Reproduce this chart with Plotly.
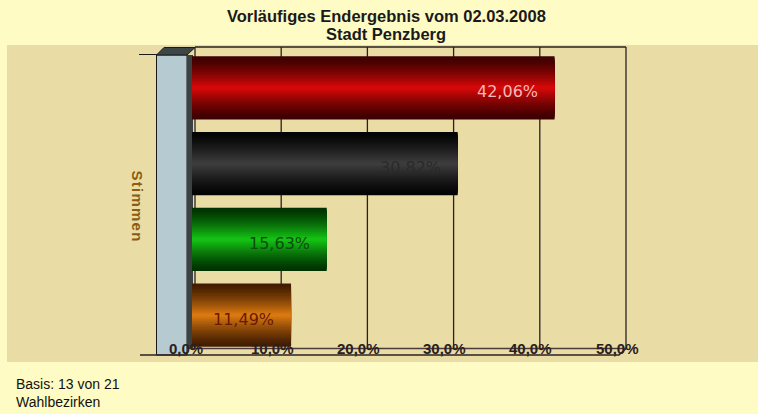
import plotly.graph_objects as go

# ---- data ----
categories = ["Partei 1", "Partei 2", "Partei 3", "Partei 4"]
values = [42.06, 30.82, 15.63, 11.49]
value_labels = ["42,06%", "30,82%", "15,63%", "11,49%"]
tick_vals = [0, 10, 20, 30, 40, 50]
tick_labels = ["0,0%", "10,0%", "20,0%", "30,0%", "40,0%", "50,0%"]
title_lines = ["Vorläufiges Endergebnis vom 02.03.2008", "Stadt Penzberg"]
axis_title = "Stimmen"
footer_lines = ["Basis: 13 von 21", "Wahlbezirken"]

# ---- style ----
W, H = 758, 414
L, R, T, B = 192, 623, 50, 353  # plot area in pixels
dark_cols = [(0x3c, 0x00, 0x00), (0x04, 0x04, 0x04), (0x00, 0x32, 0x00), (0x42, 0x1c, 0x00)]
bright_cols = [(0xD4, 0x08, 0x08), (0x3c, 0x3c, 0x3c), (0x14, 0xC0, 0x14), (0xD8, 0x78, 0x10)]
label_cols = ["#F4B8B8", "#2a2a2a", "#0c4c0c", "#6a1800"]
BAR_W = 0.836


def px(x):
    return (x - L) / (R - L)


def py(y):
    return (B - y) / (B - T)


def blend(c1, c2, t):
    return "rgb(%d,%d,%d)" % tuple(round(a + (b - a) * t) for a, b in zip(c1, c2))


fig = go.Figure()
N = 18
for k in range(N):
    f = 1.0 - k / N
    t = (k / (N - 1)) ** 1.3
    fig.add_trace(go.Bar(
        y=categories, x=values, orientation="h",
        width=[BAR_W * f] * len(values),
        marker=dict(color=[blend(d, b, t) for d, b in zip(dark_cols, bright_cols)],
                    line=dict(width=0)),
        hoverinfo="skip", showlegend=False,
    ))

shapes = []
# background bands
shapes.append(dict(type="rect", xref="paper", yref="paper", layer="below",
                   x0=px(7), x1=px(W + 5), y0=py(362), y1=py(45),
                   fillcolor="#E9DCA5", line=dict(width=0)))
# back-wall gridlines
for v in tick_vals:
    xx = px(L + v * (R - L) / 50 + 3)
    shapes.append(dict(type="line", xref="paper", yref="paper", layer="below",
                       x0=xx, x1=xx, y0=py(349), y1=py(47),
                       line=dict(color="#2a2222", width=1.3)))
shapes.append(dict(type="line", xref="paper", yref="paper", layer="below",
                   x0=px(195), x1=px(626), y0=py(47), y1=py(47),
                   line=dict(color="#2a2222", width=1.3)))
# floor
shapes.append(dict(type="line", xref="paper", yref="paper", layer="above",
                   x0=px(188), x1=px(626), y0=py(348.5), y1=py(348.5),
                   line=dict(color="#4a3c3c", width=1.5)))
shapes.append(dict(type="path", xref="paper", yref="paper", layer="above",
                   path="M %f,%f L %f,%f L %f,%f" % (px(140), py(355), px(619), py(355), px(626), py(348.5)),
                   line=dict(color="#2a2222", width=1.3)))
# left wall
shapes.append(dict(type="rect", xref="paper", yref="paper", layer="below",
                   x0=px(156.5), x1=px(187), y0=py(355), y1=py(55),
                   fillcolor="#B5CBD1", line=dict(color="#1a1a1a", width=1)))
shapes.append(dict(type="rect", xref="paper", yref="paper", layer="below",
                   x0=px(187), x1=px(193), y0=py(349), y1=py(55),
                   fillcolor="#3a4242", line=dict(width=0)))
shapes.append(dict(type="path", xref="paper", yref="paper", layer="below",
                   path="M %f,%f L %f,%f L %f,%f L %f,%f Z" % (
                       px(156.5), py(55), px(164), py(47.5), px(195), py(47.5), px(187), py(55)),
                   fillcolor="#3d4646", line=dict(color="#1a1a1a", width=1)))
shapes.append(dict(type="line", xref="paper", yref="paper", layer="below",
                   x0=px(139), x1=px(157), y0=py(54.5), y1=py(54.5),
                   line=dict(color="#1a1a1a", width=1)))

annotations = []
for i, (c, v, lab) in enumerate(zip(categories, values, value_labels)):
    annotations.append(dict(x=v, y=c, xref="x", yref="y", text=lab, showarrow=False,
                            xanchor="right", xshift=-15, yshift=-4,
                            font=dict(family="DejaVu Sans", size=16, color=label_cols[i])))
for v, lab in zip(tick_vals, tick_labels):
    annotations.append(dict(x=v, y=py(348), xref="x", yref="paper", text="<b>%s</b>" % lab,
                            showarrow=False, xanchor="center", yanchor="middle", xshift=-6,
                            font=dict(family="Liberation Sans", size=15, color="#2a2020")))
annotations.append(dict(x=px(386), y=py(16), xref="paper", yref="paper",
                        text="<b>%s</b>" % title_lines[0], showarrow=False,
                        xanchor="center", yanchor="middle",
                        font=dict(family="Liberation Sans", size=16.5, color="#1a1a1a")))
annotations.append(dict(x=px(386), y=py(34), xref="paper", yref="paper",
                        text="<b>%s</b>" % title_lines[1], showarrow=False,
                        xanchor="center", yanchor="middle",
                        font=dict(family="Liberation Sans", size=16.5, color="#1a1a1a")))
annotations.append(dict(x=px(137.5), y=py(206), xref="paper", yref="paper",
                        text="<b>%s</b>" % " ".join(axis_title).replace(" ", "\u200a"),
                        showarrow=False, textangle=90,
                        xanchor="center", yanchor="middle",
                        font=dict(family="Liberation Sans", size=15, color="#8a5c14")))
annotations.append(dict(x=px(14), y=py(374), xref="paper", yref="paper",
                        text="<br>".join(footer_lines), showarrow=False, align="left",
                        xanchor="left", yanchor="top",
                        font=dict(family="Liberation Sans", size=14, color="#111111")))

fig.update_layout(
    width=W, height=H,
    margin=dict(l=L, r=W - R, t=T, b=H - B, pad=0),
    paper_bgcolor="#FEFCC4", plot_bgcolor="rgba(0,0,0,0)",
    barmode="overlay", bargap=0.164,
    xaxis=dict(range=[0, 50], showgrid=False, zeroline=False, showticklabels=False,
               showline=False, fixedrange=True),
    yaxis=dict(categoryorder="array", categoryarray=categories, autorange="reversed",
               showgrid=False, zeroline=False, showticklabels=False, showline=False,
               fixedrange=True),
    shapes=shapes, annotations=annotations, showlegend=False,
)

fig.write_html("out.html", config={"displayModeBar": False})

# remove the default 8px body margin so the figure fills the window exactly
with open("out.html", encoding="utf-8") as fh:
    html = fh.read()
html = html.replace("<head>", "<head><style>html,body{margin:0;padding:0;overflow:hidden;}</style>", 1)
with open("out.html", "w", encoding="utf-8") as fh:
    fh.write(html)
